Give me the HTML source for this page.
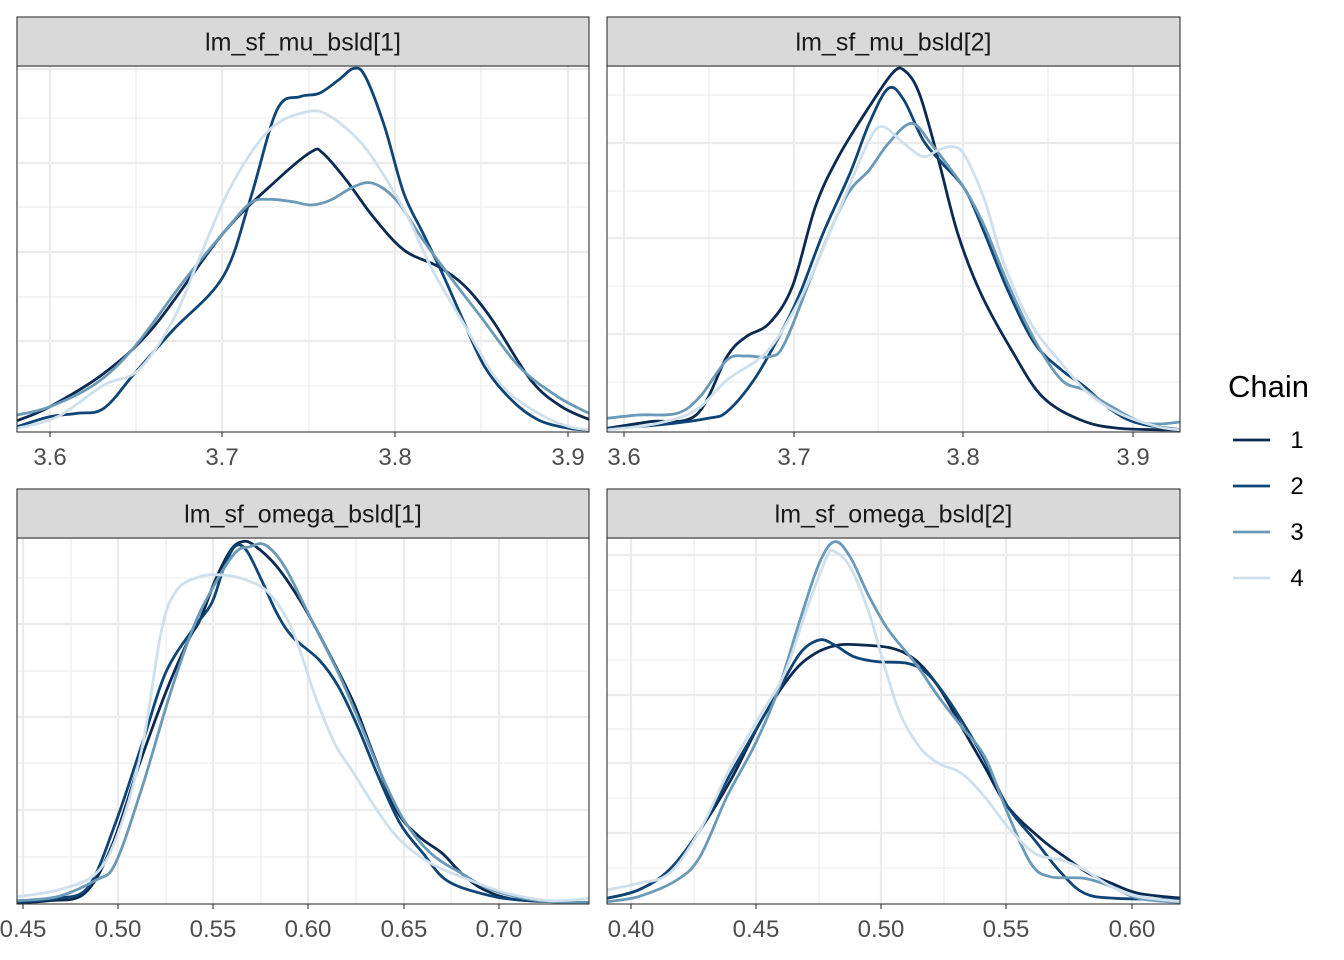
<!DOCTYPE html>
<html><head><meta charset="utf-8"><style>
body{margin:0;background:#fff;}
svg{display:block;font-family:"Liberation Sans",sans-serif;}
</style></head><body>
<svg id="s" width="1344" height="960" viewBox="0 0 1344 960">
<rect width="1344" height="960" fill="#fff"/>
<g id="g"></g>
<text x="1228" y="397" font-size="31" fill="#000">Chain</text>
<line x1="1233" y1="440" x2="1270" y2="440" stroke="#0b2a52" stroke-width="2.8"/>
<line x1="1233" y1="486" x2="1270" y2="486" stroke="#0f4576" stroke-width="2.8"/>
<line x1="1233" y1="532" x2="1270" y2="532" stroke="#6a9ab7" stroke-width="2.8"/>
<line x1="1233" y1="578" x2="1270" y2="578" stroke="#cfe0ec" stroke-width="2.8"/>
<text x="1297" y="448" font-size="24" text-anchor="middle">1</text>
<text x="1297" y="494" font-size="24" text-anchor="middle">2</text>
<text x="1297" y="540" font-size="24" text-anchor="middle">3</text>
<text x="1297" y="586" font-size="24" text-anchor="middle">4</text>
</svg>
<script>
const NS="http://www.w3.org/2000/svg";const G=document.getElementById("g");
function el(t,a,p){const e=document.createElementNS(NS,t);for(const k in a)e.setAttribute(k,a[k]);(p||G).appendChild(e);return e;}
const cols=["#0b2a52","#0f4576","#6a9ab7","#cfe0ec"];
function smooth(s){const n=s.trim().replace(/^M/,'').split(/\s+/).map(p=>p.split(',').map(Number));
let d="M"+n[0][0]+","+n[0][1];for(let i=0;i<n.length-1;i++){const p0=n[i-1]||n[i],p1=n[i],p2=n[i+1],p3=n[i+2]||p2;
const c1=[p1[0]+(p2[0]-p0[0])/6,p1[1]+(p2[1]-p0[1])/6],c2=[p2[0]-(p3[0]-p1[0])/6,p2[1]-(p3[1]-p1[1])/6];
d+=` C${c1[0]},${c1[1]} ${c2[0]},${c2[1]} ${p2[0]},${p2[1]}`;}return d;}
const panels=[
{x0:17,x1:589,st:17,y0:66,y1:432,ox:0,oy:0,title:"lm_sf_mu_bsld[1]",
 vmaj:[50,222,395,568],vmin:[136,309,481],hmaj:[69,163,252,341],hmin:[118,207,297,386],
 ticks:[[50,"3.6"],[222,"3.7"],[395,"3.8"],[568,"3.9"]],
 c:["M45,1262 130,1220 270,1120 400,980 580,700 720,540 810,455 840,460 900,540 970,650 1050,750 1140,800 1210,860 1280,960 1380,1140 1460,1220 1540,1262",
 "M45,1280 130,1250 200,1240 270,1225 350,1120 450,990 580,830 650,600 720,330 780,290 830,280 880,240 920,205 950,230 1000,380 1050,580 1100,700 1150,820 1200,950 1260,1100 1330,1200 1400,1260 1480,1285 1540,1290",
 "M45,1245 130,1220 250,1150 350,1040 480,840 580,700 650,610 700,598 760,605 810,615 860,600 920,560 970,550 1030,600 1100,720 1170,830 1250,950 1350,1100 1450,1190 1540,1245",
 "M45,1285 150,1250 270,1155 360,1110 450,960 520,770 600,560 700,390 800,335 860,350 940,430 1000,530 1060,650 1120,800 1200,960 1300,1150 1400,1240 1480,1280 1540,1290"]},
{x0:607,x1:1180,st:17,y0:66,y1:432,ox:600,oy:0,title:"lm_sf_mu_bsld[2]",
 vmaj:[624,794,963,1133],vmin:[709,878,1048],hmaj:[143,238,334],hmin:[95,191,286,382],
 ticks:[[624,"3.6"],[794,"3.7"],[963,"3.8"],[1133,"3.9"]],
 c:["M18,1285 130,1265 250,1245 330,1070 380,1010 440,970 500,860 560,620 620,470 700,320 760,220 790,210 830,280 880,480 930,700 990,880 1070,1050 1150,1190 1250,1260 1350,1285 1515,1290",
 "M18,1285 150,1275 280,1255 330,1235 400,1140 470,1000 520,880 580,700 650,520 700,370 750,265 790,300 840,420 890,490 950,570 1000,700 1060,870 1130,1030 1200,1110 1260,1160 1330,1230 1400,1270 1515,1290",
 "M18,1255 100,1245 200,1240 260,1190 330,1080 380,1068 440,1070 480,1030 560,800 640,590 700,510 750,430 810,370 860,430 900,490 950,570 1000,680 1060,850 1130,1020 1200,1140 1260,1170 1330,1220 1420,1270 1515,1265",
 "M18,1290 150,1270 250,1230 330,1140 430,1060 500,940 560,800 640,580 700,420 735,380 790,430 840,470 880,450 920,440 950,470 1000,600 1050,790 1120,970 1200,1090 1270,1180 1350,1240 1450,1280 1515,1290"]},
{x0:17,x1:589,st:489,y0:538,y1:904,ox:0,oy:480,title:"lm_sf_omega_bsld[1]",
 vmaj:[23,118,213,308,404,499],vmin:[71,166,261,356,451,547],hmaj:[624,717,810],hmin:[578,671,763,857],
 ticks:[[23,"0.45"],[118,"0.50"],[213,"0.55"],[308,"0.60"],[404,"0.65"],[499,"0.70"]],
 c:["M45,1268 130,1262 220,1240 290,1100 360,860 430,640 490,480 520,420 560,300 600,210 630,185 660,195 720,260 790,380 860,530 920,670 970,820 1030,990 1090,1070 1150,1120 1200,1180 1260,1230 1350,1260 1540,1268",
 "M45,1265 150,1255 230,1220 300,1030 370,790 430,580 500,450 550,370 580,270 610,200 640,210 680,300 720,400 760,470 830,540 880,620 930,740 980,880 1040,1030 1100,1120 1160,1200 1250,1240 1350,1260 1540,1268",
 "M45,1262 150,1250 250,1200 300,1150 370,920 440,650 500,450 550,330 610,220 650,200 690,195 740,260 810,420 880,580 940,740 990,880 1050,1020 1120,1120 1200,1180 1280,1230 1400,1262 1540,1268",
 "M45,1250 150,1230 250,1180 310,1050 370,800 420,450 460,330 520,290 580,285 640,300 700,340 760,450 820,650 870,790 920,880 980,990 1040,1080 1120,1150 1220,1200 1320,1240 1430,1262 1540,1255"]},
{x0:607,x1:1180,st:489,y0:538,y1:904,ox:600,oy:480,title:"lm_sf_omega_bsld[2]",
 vmaj:[631,756,881,1006,1132],vmin:[694,819,944,1069],hmaj:[555,624,695,763,833],hmin:[590,660,729,798,868],
 ticks:[[631,"0.40"],[756,"0.45"],[881,"0.50"],[1006,"0.55"],[1132,"0.60"]],
 c:["M18,1255 100,1230 180,1170 260,1050 340,900 420,720 500,580 560,520 620,495 680,495 760,505 820,540 880,620 940,740 1000,860 1060,980 1150,1080 1220,1140 1270,1180 1330,1210 1400,1240 1515,1255",
 "M18,1255 100,1230 180,1170 260,1050 340,880 400,760 460,640 520,520 570,480 610,495 660,530 720,545 800,550 850,580 900,650 950,740 1000,840 1060,980 1130,1080 1200,1180 1260,1240 1340,1255 1515,1258",
 "M18,1265 100,1250 200,1200 260,1130 330,950 400,800 460,640 520,420 570,250 610,185 650,230 700,350 750,450 820,550 880,650 940,740 1000,830 1060,1000 1120,1150 1170,1190 1260,1195 1330,1220 1400,1255 1515,1268",
 "M18,1230 100,1210 180,1180 260,1050 340,860 420,700 480,580 540,380 590,230 610,215 650,260 700,400 740,560 780,700 830,800 880,850 940,880 1000,950 1060,1040 1130,1120 1200,1140 1260,1170 1330,1220 1400,1250 1515,1265"]}];
let id=0;
for(const p of panels){
 const cid="c"+(id++);const cp=el("clipPath",{id:cid});el("rect",{x:p.x0,y:p.y0,width:p.x1-p.x0,height:p.y1-p.y0},cp);
 const gg=el("g",{"clip-path":`url(#${cid})`});
 for(const x of p.vmin)el("line",{x1:x,x2:x,y1:p.y0,y2:p.y1,stroke:"#ebebeb","stroke-width":1.1},gg);
 for(const y of p.hmin)el("line",{x1:p.x0,x2:p.x1,y1:y,y2:y,stroke:"#ebebeb","stroke-width":1.1},gg);
 for(const x of p.vmaj)el("line",{x1:x,x2:x,y1:p.y0,y2:p.y1,stroke:"#ebebeb","stroke-width":2.2},gg);
 for(const y of p.hmaj)el("line",{x1:p.x0,x2:p.x1,y1:y,y2:y,stroke:"#ebebeb","stroke-width":2.2},gg);
 const t=el("g",{transform:`translate(${p.ox},${p.oy}) scale(${1/2.6},${1/3})`},gg);
 for(let i=0;i<4;i++)el("path",{d:smooth(p.c[i]),fill:"none",stroke:cols[i],"stroke-width":2.8,"vector-effect":"non-scaling-stroke","stroke-linejoin":"round"},t);
 el("rect",{x:p.x0,y:p.y0,width:p.x1-p.x0,height:p.y1-p.y0,fill:"none",stroke:"#333","stroke-width":1.1});
 el("rect",{x:p.x0,y:p.st,width:p.x1-p.x0,height:p.y0-p.st,fill:"#d9d9d9",stroke:"#333","stroke-width":1.1});
 const tt=el("text",{x:(p.x0+p.x1)/2,y:(p.st+p.y0)/2+9,"font-size":25,"text-anchor":"middle",fill:"#1a1a1a"});tt.textContent=p.title;
 for(const [x,l] of p.ticks){el("line",{x1:x,x2:x,y1:p.y1,y2:p.y1+5,stroke:"#333","stroke-width":1.1});
  const tx=el("text",{x:x,y:p.y1+33,"font-size":24,"text-anchor":"middle",fill:"#4d4d4d"});tx.textContent=l;}
}
</script>
</body></html>
